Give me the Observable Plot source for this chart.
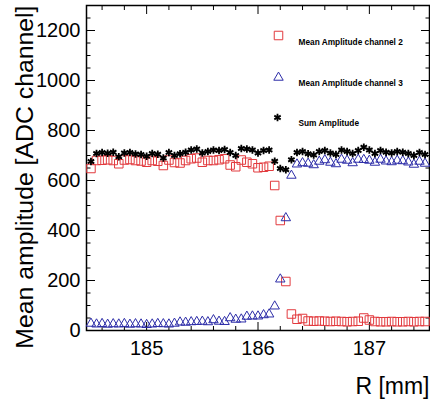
<!DOCTYPE html>
<html><head><meta charset="utf-8">
<script src="https://cdn.jsdelivr.net/npm/d3@7"></script>
<script src="https://cdn.jsdelivr.net/npm/@observablehq/plot@0.6"></script>
<style>body{margin:0;background:#fff} svg{display:block}</style>
</head><body><div id="chart"></div>
<script>
const R = [184.5, 184.55, 184.6, 184.65, 184.7, 184.75, 184.8, 184.85, 184.9, 184.95,
  185, 185.05, 185.1, 185.15, 185.2, 185.25, 185.3, 185.35, 185.4, 185.45,
  185.5, 185.55, 185.6, 185.65, 185.7, 185.75, 185.8, 185.85, 185.9, 185.95,
  186, 186.05, 186.1, 186.15, 186.2, 186.25, 186.3, 186.35, 186.4, 186.45,
  186.5, 186.55, 186.6, 186.65, 186.7, 186.75, 186.8, 186.85, 186.9, 186.95,
  187, 187.05, 187.1, 187.15, 187.2, 187.25, 187.3, 187.35, 187.4, 187.45, 187.5];
const ch2 = [648, 680, 681, 683, 680, 667, 682, 684, 680, 678,
  673, 680, 677, 660, 682, 672, 670, 680, 687, 690,
  673, 680, 680, 683, 687, 662, 655, 682, 673, 667,
  651, 653, 657, 580, 440, 196, 66, 45, 48, 38,
  37, 38, 37, 36, 37, 36, 35, 36, 37, 50,
  42, 36, 35, 35, 36, 35, 35, 36, 35, 36, 36];
const ch3 = [28, 25, 27, 24, 26, 25, 27, 24, 26, 25,
  23, 25, 27, 26, 25, 28, 33, 32, 34, 35,
  36, 34, 42, 36, 35, 50, 44, 45, 56, 57,
  57, 62, 65, 97, 205, 450, 620, 665, 670, 668,
  662, 676, 682, 672, 666, 684, 680, 670, 684, 683,
  680, 672, 684, 677, 674, 680, 678, 673, 664, 676, 668];
const sumAmp = [676, 708, 712, 709, 713, 695, 710, 712, 706, 704,
  697, 708, 705, 690, 712, 700, 707, 713, 722, 726,
  710, 716, 722, 720, 724, 712, 700, 728, 726, 722,
  710, 720, 722, 677, 648, 643, 683, 712, 716, 707,
  702, 716, 720, 710, 704, 722, 716, 708, 720, 733,
  722, 708, 720, 713, 710, 716, 713, 708, 700, 712, 704];

const xMajor = [185, 186, 187];
const xMinor = [184.6, 184.8, 185.2, 185.4, 185.6, 185.8, 186.2, 186.4, 186.6, 186.8, 187.2, 187.4];
const yMajor = [0, 200, 400, 600, 800, 1000, 1200];
const yMinor = [50, 100, 150, 250, 300, 350, 450, 500, 550, 650, 700, 750, 850, 900, 950, 1050, 1100, 1150, 1250];
const legendLabels = ["Mean Amplitude channel 2", "Mean Amplitude channel 3", "Sum Amplitude"];
const xTitle = "R [mm]";
const yTitle = "Mean amplitude [ADC channel]";

const RED = "#e23a3e", BLUE = "#2d2da8", BLACK = "#000";
const font = "'Liberation Sans', Arial, Helvetica, sans-serif";
const rows = R.map((r, i) => ({r, ch2: ch2[i], ch3: ch3[i], sum: sumAmp[i]}));
const blank = () => "";

const plot = Plot.plot({
  width: 430, height: 405,
  marginLeft: 86, marginRight: 1, marginTop: 5, marginBottom: 75,
  style: {fontFamily: font, background: "#fff", color: "#000"},
  x: {domain: [184.46, 187.54], label: null},
  y: {domain: [0, 1300], label: null},
  marks: [
    Plot.axisX({ticks: xMajor, tickSize: 0, tickPadding: 10, fontSize: 20, label: null, tickFormat: d => String(d)}),
    Plot.axisX({ticks: xMajor, tickSize: -8, tickFormat: blank, label: null}),
    Plot.axisX({ticks: xMinor, tickSize: -4, tickFormat: blank, label: null}),
    Plot.axisX({anchor: "top", ticks: xMajor, tickSize: -8, tickFormat: blank, label: null}),
    Plot.axisX({anchor: "top", ticks: xMinor, tickSize: -4, tickFormat: blank, label: null}),
    Plot.axisY({ticks: yMajor, tickSize: 0, tickPadding: 6, fontSize: 20, label: null, tickFormat: d => String(d)}),
    Plot.axisY({ticks: yMajor, tickSize: -9, tickFormat: blank, label: null}),
    Plot.axisY({ticks: yMinor, tickSize: -4.5, tickFormat: blank, label: null}),
    Plot.axisY({anchor: "right", ticks: yMajor, tickSize: -9, tickFormat: blank, label: null}),
    Plot.axisY({anchor: "right", ticks: yMinor, tickSize: -4.5, tickFormat: blank, label: null}),
    Plot.frame({stroke: BLACK, strokeWidth: 1.5}),
    Plot.dot(rows, {x: "r", y: "ch2", symbol: "square", r: 4.8, stroke: RED, strokeWidth: 1}),
    Plot.dot(rows, {x: "r", y: "ch3", symbol: "triangle", r: 3.5, stroke: BLUE, strokeWidth: 1}),
    Plot.dot(rows, {x: "r", y: "sum", symbol: "asterisk", r: 3.5, stroke: BLACK, strokeWidth: 1.8}),
    // legend
    Plot.dot([legendLabels[0]], {frameAnchor: "top-left", dx: 192, dy: 30, symbol: "square", r: 4.8, stroke: RED, strokeWidth: 1}),
    Plot.dot([legendLabels[1]], {frameAnchor: "top-left", dx: 192, dy: 72, symbol: "triangle", r: 3.5, stroke: BLUE, strokeWidth: 1}),
    Plot.dot([legendLabels[2]], {frameAnchor: "top-left", dx: 191, dy: 112, symbol: "asterisk", r: 3.5, stroke: BLACK, strokeWidth: 1.8}),
    Plot.text([legendLabels[0]], {frameAnchor: "top-left", dx: 212, dy: 36.5, text: d => d, textAnchor: "start", lineAnchor: "middle", fontSize: 8.3, fontWeight: "bold", fill: BLACK}),
    Plot.text([legendLabels[1]], {frameAnchor: "top-left", dx: 212, dy: 77.5, text: d => d, textAnchor: "start", lineAnchor: "middle", fontSize: 8.3, fontWeight: "bold", fill: BLACK}),
    Plot.text([legendLabels[2]], {frameAnchor: "top-left", dx: 212, dy: 117.5, text: d => d, textAnchor: "start", lineAnchor: "middle", fontSize: 8.3, fontWeight: "bold", fill: BLACK}),
    // axis titles
    Plot.text([yTitle], {frameAnchor: "top-left", dx: -61, dy: 0, text: d => d, rotate: -90, textAnchor: "end", lineAnchor: "middle", fontSize: 24.8, fill: BLACK}),
    Plot.text([xTitle], {frameAnchor: "bottom-right", dx: 0, dy: 56, text: d => d, textAnchor: "end", lineAnchor: "middle", fontSize: 23, fill: BLACK})
  ]
});
document.getElementById("chart").appendChild(plot);
</script>
</body></html>
